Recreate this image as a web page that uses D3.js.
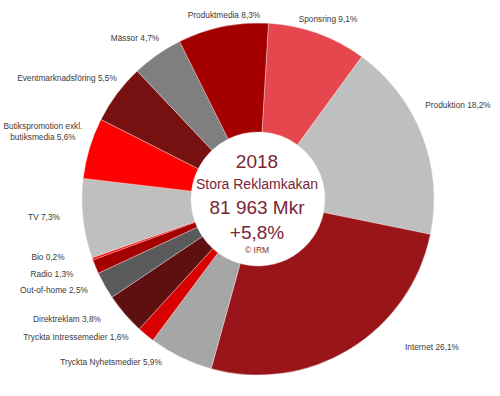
<!DOCTYPE html>
<html>
<head>
<meta charset="utf-8">
<script src="https://cdn.jsdelivr.net/npm/d3@7"></script>
<style>
  body { margin: 0; background: #fff; }
  text { font-family: "Liberation Sans", Arial, sans-serif; }
</style>
</head>
<body>
<svg id="svg1" width="500" height="396"></svg>
<script>
var svg = d3.select('#svg1');

// clockwise from just right of 12 o'clock
var categories = ['Sponsring', 'Produktion', 'Internet', 'Tryckta Nyhetsmedier', 'Tryckta Intressemedier ',
    'Direktreklam', 'Out-of-home', 'Radio', 'Bio', 'TV', 'Butikspromotion exkl.|butiksmedia',
    'Eventmarknadsföring', 'Mässor', 'Produktmedia'];
var shares = [9.1, 18.2, 26.1, 5.9, 1.6, 3.8, 2.5, 1.3, 0.2, 7.3, 5.6, 5.5, 4.7, 8.3];
var sliceColors = ['#e6474f', '#bfbfbf', '#9a1519', '#a6a6a6', '#d90000', '#5e0f10', '#5a5a5a',
    '#a30000', '#ff0000', '#bfbfbf', '#ff0000', '#771111', '#7f7f7f', '#a50000'];
// label anchor points (centre of the text)
var labelPos = [[328, 19], [458, 105], [432, 347], [111, 362], [76, 337], [67, 319], [54, 290],
    [52, 274], [48, 257], [44, 217], [43, 131], [67, 78], [135, 38], [224, 15]];
var centerLines = ['2018', 'Stora Reklamkakan', '81 963 Mkr', '+5,8%', '© IRM'];

var cx = 258, cy = 199;
var outerR = 176, innerR = 67;
var startAngle = 3.4 * Math.PI / 180;

var data = categories.map(function(d, i) {
    return {name: d, value: shares[i], color: sliceColors[i], pos: labelPos[i]};
});

var pie = d3.pie()
    .sort(null)
    .value(function(d) { return d.value; })
    .startAngle(startAngle)
    .endAngle(startAngle + 2 * Math.PI);

var arc = d3.arc().innerRadius(innerR).outerRadius(outerR);

var g = svg.append('g')
    .attr('transform', 'translate(' + [cx, cy] + ')');

g.selectAll('.slice')
    .data(pie(data))
    .enter()
    .append('path')
    .attr('class', 'slice')
    .attr('d', arc)
    .style('fill', function(d) { return d.data.color; })
    .style('stroke', '#f2e6e6')
    .style('stroke-width', 0.4);

var fmt = function(v) { return String(v).replace('.', ','); };

var labels = svg.append('g').selectAll('.label')
    .data(data)
    .enter()
    .append('text')
    .attr('class', 'label')
    .attr('text-anchor', 'middle')
    .attr('font-size', '8.3px')
    .style('fill', '#3a3a3a');

labels.each(function(d) {
    var parts = d.name.split('|');
    var t = d3.select(this);
    if (parts.length == 1) {
        t.append('tspan')
            .attr('x', d.pos[0])
            .attr('y', d.pos[1] + 3)
            .text(d.name + ' ' + fmt(d.value) + '%');
    } else {
        t.append('tspan')
            .attr('x', d.pos[0])
            .attr('y', d.pos[1] + 3 - 5)
            .text(parts[0]);
        t.append('tspan')
            .attr('x', d.pos[0])
            .attr('y', d.pos[1] + 3 + 6)
            .text(parts[1] + ' ' + fmt(d.value) + '%');
    }
});

// centre text
var centerY = [168, 189, 214, 239, 253];
var centerSize = [19, 14, 19, 19, 8.5];
svg.append('g').selectAll('.center')
    .data(centerLines)
    .enter()
    .append('text')
    .attr('class', 'center')
    .attr('x', 257)
    .attr('y', function(d, i) { return centerY[i]; })
    .attr('text-anchor', 'middle')
    .attr('font-size', function(d, i) { return centerSize[i] + 'px'; })
    .style('fill', function(d, i) { return i == 4 ? '#7a3040' : '#7a2636'; })
    .text(function(d) { return d; });
</script>
</body>
</html>
